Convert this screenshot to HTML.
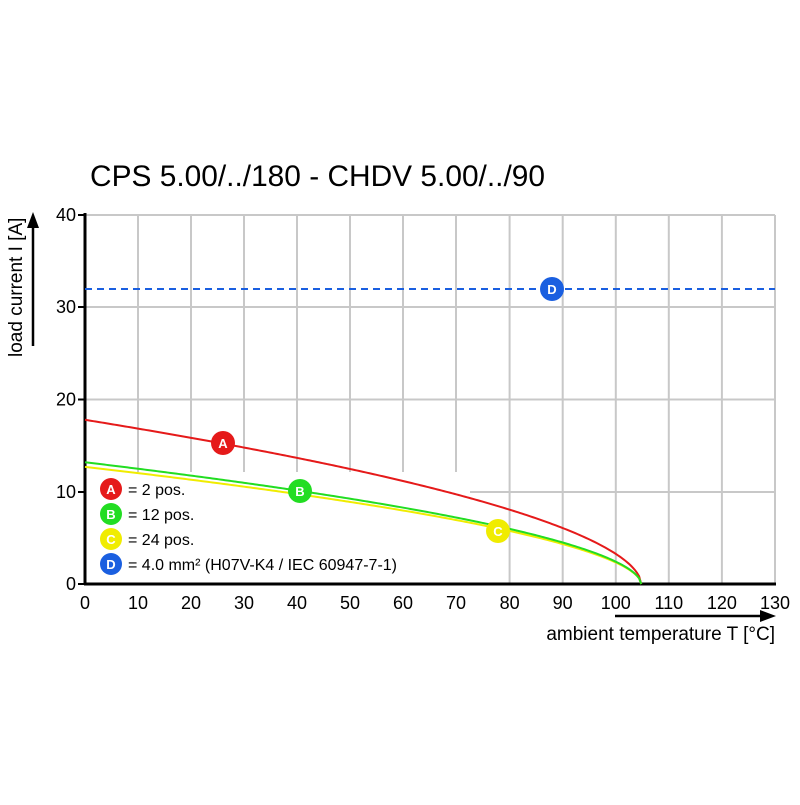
<!DOCTYPE html><html><head><style>body{margin:0;background:#fff}</style></head><body>
<svg width="800" height="800" xmlns="http://www.w3.org/2000/svg" font-family="Liberation Sans, Arial, sans-serif">
<rect width="800" height="800" fill="#fff"/>
<text x="90" y="186" font-size="29.5" textLength="455" lengthAdjust="spacingAndGlyphs">CPS 5.00/../180 - CHDV 5.00/../90</text>
<g stroke="#c8c8c8" stroke-width="2">
<line x1="85" y1="215" x2="775" y2="215"/><line x1="85" y1="307" x2="775" y2="307"/><line x1="85" y1="399.5" x2="775" y2="399.5"/><line x1="470" y1="492" x2="775" y2="492"/>
<line x1="138" y1="215" x2="138" y2="472"/><line x1="191" y1="215" x2="191" y2="472"/><line x1="244" y1="215" x2="244" y2="472"/><line x1="297" y1="215" x2="297" y2="472"/><line x1="350" y1="215" x2="350" y2="472"/><line x1="403" y1="215" x2="403" y2="472"/><line x1="456" y1="215" x2="456" y2="472"/>
<line x1="509.6" y1="215" x2="509.6" y2="584"/><line x1="562.7" y1="215" x2="562.7" y2="584"/><line x1="615.8" y1="215" x2="615.8" y2="584"/><line x1="668.8" y1="215" x2="668.8" y2="584"/><line x1="721.9" y1="215" x2="721.9" y2="584"/><line x1="775" y1="215" x2="775" y2="584"/>
</g>
<g stroke="#000" stroke-width="3"><line x1="85" y1="213" x2="85" y2="585"/><line x1="84" y1="584" x2="776" y2="584"/></g>
<g stroke="#000" stroke-width="2">
<line x1="78" y1="215" x2="85" y2="215"/><line x1="78" y1="307" x2="85" y2="307"/><line x1="78" y1="399.5" x2="85" y2="399.5"/><line x1="78" y1="492" x2="85" y2="492"/><line x1="78" y1="584" x2="85" y2="584"/>
</g>
<g font-size="18" text-anchor="end"><text x="76" y="221">40</text><text x="76" y="313">30</text><text x="76" y="405.5">20</text><text x="76" y="498">10</text><text x="76" y="590">0</text></g>
<g font-size="18" text-anchor="middle">
<text x="85" y="609">0</text><text x="138" y="609">10</text><text x="191" y="609">20</text><text x="244" y="609">30</text><text x="297" y="609">40</text><text x="350" y="609">50</text><text x="403" y="609">60</text><text x="456" y="609">70</text><text x="509.6" y="609">80</text><text x="562.7" y="609">90</text><text x="615.8" y="609">100</text><text x="668.8" y="609">110</text><text x="721.9" y="609">120</text><text x="775" y="609">130</text>
</g>
<line x1="85" y1="289" x2="775" y2="289" stroke="#1a5fe0" stroke-width="2" stroke-dasharray="7,5"/>
<path id="a" fill="none" stroke="#e51a1a" stroke-width="2"/>
<path id="c" fill="none" stroke="#f0ec00" stroke-width="2"/>
<path id="b" fill="none" stroke="#22dd22" stroke-width="2"/>
<g font-size="13" font-weight="bold" fill="#fff" text-anchor="middle">
<circle cx="223" cy="443" r="12" fill="#e51a1a"/><text x="223" y="448">A</text>
<circle cx="300" cy="491" r="12" fill="#22dd22"/><text x="300" y="496">B</text>
<circle cx="498" cy="531" r="12" fill="#f0ec00"/><text x="498" y="536">C</text>
<circle cx="552" cy="289" r="12" fill="#1a5fe0"/><text x="552" y="294">D</text>
<circle cx="111" cy="489" r="11" fill="#e51a1a"/><text x="111" y="494">A</text>
<circle cx="111" cy="514" r="11" fill="#22dd22"/><text x="111" y="519">B</text>
<circle cx="111" cy="539" r="11" fill="#f0ec00"/><text x="111" y="544">C</text>
<circle cx="111" cy="564" r="11" fill="#1a5fe0"/><text x="111" y="569">D</text>
</g>
<g font-size="16"><text x="128" y="495">= 2 pos.</text><text x="128" y="520">= 12 pos.</text><text x="128" y="545">= 24 pos.</text><text x="128" y="570">= 4.0 mm² (H07V-K4 / IEC 60947-7-1)</text></g>
<text x="775" y="640" font-size="19" text-anchor="end">ambient temperature T [°C]</text>
<line x1="615" y1="616" x2="762" y2="616" stroke="#000" stroke-width="2.5"/><polygon points="776,616 760,610 760,622" fill="#000"/>
<text transform="translate(22,357) rotate(-90)" font-size="19">load current I [A]</text>
<line x1="33" y1="346" x2="33" y2="226" stroke="#000" stroke-width="2.5"/><polygon points="33,212 27,228 39,228" fill="#000"/>
<script>
function P(i0){let d="";for(let t=0;t<=104.8;t+=0.4){let v=i0*Math.pow(Math.max(0,1-t/104.8),0.55);d+=(t?"L":"M")+(85+t*5.3077).toFixed(2)+","+(584-v*9.225).toFixed(2);}d+="L"+(85+104.8*5.3077).toFixed(2)+",584";return d;}
document.getElementById("a").setAttribute("d",P(17.8));
document.getElementById("b").setAttribute("d",P(13.2));
document.getElementById("c").setAttribute("d",P(12.7));
</script>
</svg></body></html>
